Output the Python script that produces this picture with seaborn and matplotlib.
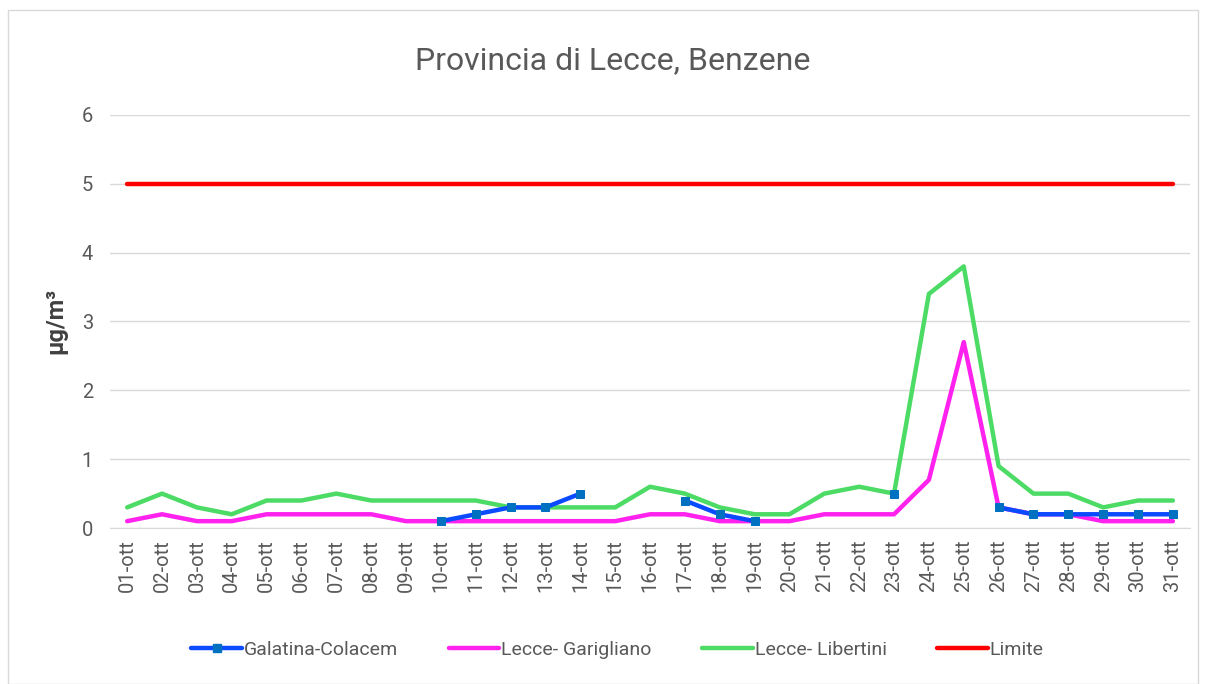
import numpy as np
import pandas as pd
import matplotlib.pyplot as plt
import seaborn as sns
from matplotlib.lines import Line2D
from matplotlib.patches import Rectangle

giorni = [f"{d:02d}-ott" for d in range(1, 32)]

galatina = [np.nan] * 9 + [0.1, 0.2, 0.3, 0.3, 0.5, np.nan, np.nan, 0.4, 0.2, 0.1,
                           np.nan, np.nan, np.nan, 0.5, np.nan, np.nan, 0.3, 0.2, 0.2, 0.2, 0.2, 0.2]
garigliano = [0.1, 0.2, 0.1, 0.1, 0.2, 0.2, 0.2, 0.2, 0.1, 0.1, 0.1, 0.1, 0.1, 0.1, 0.1, 0.2,
              0.2, 0.1, 0.1, 0.1, 0.2, 0.2, 0.2, 0.7, 2.7, 0.3, 0.2, 0.2, 0.1, 0.1, 0.1]
libertini = [0.3, 0.5, 0.3, 0.2, 0.4, 0.4, 0.5, 0.4, 0.4, 0.4, 0.4, 0.3, 0.3, 0.3, 0.3, 0.6,
             0.5, 0.3, 0.2, 0.2, 0.5, 0.6, 0.5, 3.4, 3.8, 0.9, 0.5, 0.5, 0.3, 0.4, 0.4]
limite = [5] * 31

sns.set_style("white")
plt.rcParams['font.family'] = ['Roboto', 'DejaVu Sans']

x = np.arange(len(giorni))
df_gal = pd.DataFrame({'x': x, 'y': galatina})
# segmenti separati dove mancano i dati
df_gal['seg'] = df_gal['y'].isna().cumsum()
df_gal = df_gal.dropna()

fig = plt.figure(figsize=(12.06, 6.84), dpi=100)
ax = fig.add_axes([0.091, 0.228, 0.896, 0.604])

c_gal, c_gar, c_lib, c_lim = '#0A4BFF', '#FF22EE', '#4CDB64', '#FF0000'

sns.lineplot(x=x, y=limite, color=c_lim, lw=3.2, ax=ax, solid_capstyle='round')
sns.lineplot(x=x, y=libertini, color=c_lib, lw=3.2, ax=ax)
sns.lineplot(x=x, y=garigliano, color=c_gar, lw=3.2, ax=ax)
sns.lineplot(data=df_gal, x='x', y='y', units='seg', estimator=None, color=c_gal, lw=3.2,
             marker='s', markersize=6, markerfacecolor='#0070C0', markeredgecolor='#0070C0', ax=ax)

ax.set_xlim(-0.5, len(giorni) - 0.5)
ax.set_ylim(0, 6)
ax.set_yticks(range(0, 7))
ax.set_xticks(x)
ax.set_xticklabels(giorni, rotation=90)
ax.set_xticks(np.arange(-0.5, len(giorni)), minor=True)
ax.tick_params(axis='x', which='major', length=0, pad=8, labelsize=14.5, labelcolor='#595959')
ax.tick_params(axis='x', which='minor', length=8, color='#D9D9D9', width=1)
ax.tick_params(axis='y', length=0, pad=12, labelsize=14.5, labelcolor='#595959')
ax.grid(axis='y', color='#D9D9D9', lw=1)
ax.set_axisbelow(True)
for s in ['top', 'right', 'left']:
    ax.spines[s].set_visible(False)
ax.spines['bottom'].set_color('#D9D9D9')
ax.set_xlabel('')
ax.set_ylabel('µg/m³', fontsize=17, color='#404040', fontweight='bold', labelpad=10)
fig.text(0.508, 0.912, 'Provincia di Lecce, Benzene', fontsize=23, color='#595959',
         ha='center', va='center')

handles = [
    Line2D([], [], color=c_gal, lw=3.2, marker='s', markersize=6,
           markerfacecolor='#0070C0', markeredgecolor='#0070C0'),
    Line2D([], [], color=c_gar, lw=3.2),
    Line2D([], [], color=c_lib, lw=3.2),
    Line2D([], [], color=c_lim, lw=3.2),
]
labels = ['Galatina-Colacem', 'Lecce- Garigliano', 'Lecce- Libertini', 'Limite']
fig.legend(handles, labels, loc='center', bbox_to_anchor=(0.512, 0.05), ncol=4, frameon=False,
           fontsize=14, handlelength=2.6, handletextpad=0.1, columnspacing=2.6, labelcolor='#595959')

fig.patches.append(Rectangle((0.007, 0.0), 0.986, 0.985, transform=fig.transFigure,
                             fill=False, edgecolor='#D9D9D9', lw=1))

plt.savefig('out.png', dpi=100)
